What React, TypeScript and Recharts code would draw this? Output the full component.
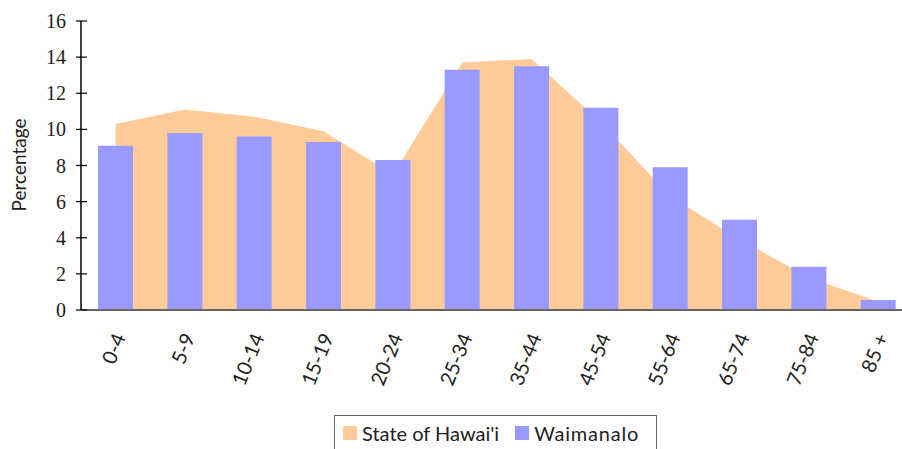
import * as React from 'react';
import {ComposedChart, Area, Bar, XAxis, YAxis} from "recharts";

const ageGroups = ['0-4', '5-9', '10-14', '15-19', '20-24', '25-34', '35-44', '45-54', '55-64', '65-74', '75-84', '85 +'];
const stateOfHawaii = [10.3, 11.1, 10.7, 9.9, 7.5, 13.7, 13.9, 10.4, 6.3, 3.9, 1.8, 0.45];
const waimanalo = [9.1, 9.8, 9.6, 9.3, 8.3, 13.3, 13.5, 11.2, 7.9, 5.0, 2.4, 0.55];
const yTicks = [0, 2, 4, 6, 8, 10, 12, 14, 16];

const seriesNames = ["State of Hawai'i", 'Waimanalo'];
const seriesColors = ['#ffcc99', '#9999ff'];

const data = ageGroups.map((age, i) => ({
    age: age,
    hawaii: stateOfHawaii[i],
    waimanalo: waimanalo[i],
}));

const sansFont = 'Lato, "Open Sans", sans-serif';
const serifFont = '"Liberation Serif", "DejaVu Serif", serif';

function YTick(props: any) {
    const {y, payload} = props;
    return (
        <g>
            <line x1={76} x2={87} y1={y} y2={y} stroke="#000" strokeWidth={1.2} />
            <text x={66} y={y} textAnchor="end" dominantBaseline="central"
                  fontFamily={serifFont} fontSize={20} fill="#222">
                {payload.value}
            </text>
        </g>
    );
}

function XTick(props: any) {
    const {x, payload} = props;
    const ty = 334;
    return (
        <text x={x + 3} y={ty} transform={`rotate(-68, ${x + 3}, ${ty})`} textAnchor="end"
              dominantBaseline="central" fontFamily={sansFont} fontSize={20} fill="#222">
            {payload.value}
        </text>
    );
}

function YLabel() {
    return (
        <text x={18} y={165} transform="rotate(-90, 18, 165)" textAnchor="middle" dominantBaseline="central"
              fontFamily={sansFont} fontSize={19} fill="#222">
            Percentage
        </text>
    );
}

export default function App() {
    return (
        <div style={{position: 'absolute', left: 0, top: 0, width: 902, height: 449, overflow: 'hidden', background: '#fff'}}>
            <ComposedChart width={920} height={470} data={data}
                           margin={{top: 21, right: 7, left: 0, bottom: 0}}>
                <XAxis dataKey="age" height={160} tick={<XTick />} tickLine={false}
                       axisLine={{stroke: '#666', strokeWidth: 2}} interval={0} />
                <YAxis width={81} domain={[0, 16]} ticks={yTicks} tick={<YTick />} tickLine={false}
                       axisLine={{stroke: '#000', strokeWidth: 1.5}} interval={0}
                       label={{content: () => <YLabel />}} />
                <Area type="linear" dataKey="hawaii" name={seriesNames[0]} fill={seriesColors[0]}
                      fillOpacity={1} stroke="none" isAnimationActive={false} />
                <Bar dataKey="waimanalo" name={seriesNames[1]} fill={seriesColors[1]} barSize={35}
                     isAnimationActive={false} />
            </ComposedChart>
            <div style={{position: 'absolute', left: 334, top: 415, width: 323, height: 50,
                border: '1px solid #666', display: 'flex', alignItems: 'flex-start',
                fontFamily: sansFont, fontSize: 20, color: '#222', paddingLeft: 8, paddingTop: 5, boxSizing: 'border-box'}}>
                {seriesNames.map((name, i) => (
                    <span key={name} style={{display: 'flex', alignItems: 'center', marginRight: 16, letterSpacing: i === 1 ? 0.8 : 0}}>
                        <span style={{display: 'inline-block', width: 14, height: 14, background: seriesColors[i], marginRight: 5}} />
                        {name}
                    </span>
                ))}
            </div>
        </div>
    );
}
